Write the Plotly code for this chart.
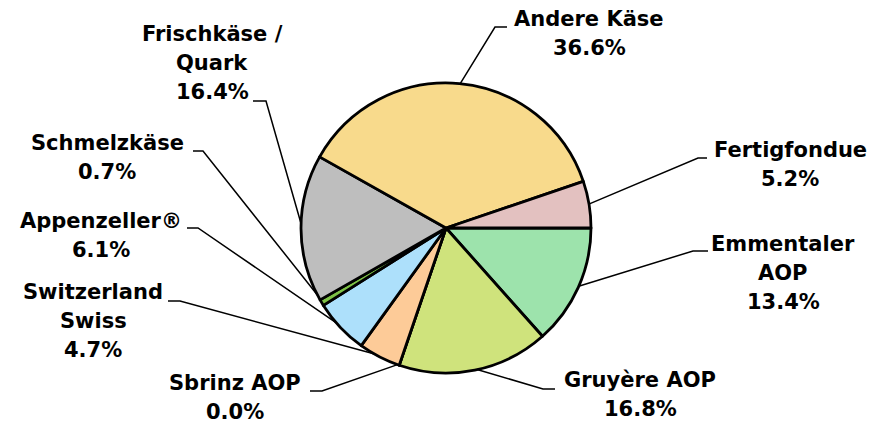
import math
import plotly.graph_objects as go

# ---- data (clockwise from 3 o'clock) ----
categories = ["Emmentaler AOP", "Gruyère AOP", "Sbrinz AOP", "Switzerland Swiss",
              "Appenzeller®", "Schmelzkäse", "Frischkäse / Quark", "Andere Käse", "Fertigfondue"]
shares = [13.4, 16.8, 0.0, 4.7, 6.1, 0.7, 16.4, 36.6, 5.2]
colors = ["#9DE3AC", "#CFE37C", "#FDCB98", "#FDCB98", "#ADE0FB", "#7DC146",
          "#BEBEBE", "#F8DA8C", "#E3C1C0"]
label_lines = [["Emmentaler", "AOP"], ["Gruyère AOP"], ["Sbrinz AOP"], ["Switzerland", "Swiss"],
               ["Appenzeller®"], ["Schmelzkäse"], ["Frischkäse /", "Quark"], ["Andere Käse"],
               ["Fertigfondue"]]

# ---- layout (pixels) ----
W, H = 884, 425
CX, CY, R = 446, 228, 145
# label: x centre, y of first line centre; leader: elbow x, end x, y
label_pos = [(783, 244), (640, 380), (235, 383), (93, 292), (101, 221), (107, 143),
             (212, 34), (589, 19), (790, 150)]
leader = [(693, 708, 251), (543, 555, 389), (322, 310, 391), (180, 168, 301),
          (198, 187, 228), (203, 193, 151), (266, 253, 101), (495, 507, 27),
          (698, 707, 158)]
LINE_GAP = 29
FONT = dict(family="DejaVu Sans", size=21, color="black", weight="bold")


def px(x):
    return x / W


def py(y):
    return 1 - y / H


fig = go.Figure(go.Pie(
    labels=categories, values=shares, sort=False, direction="clockwise", rotation=90,
    marker=dict(colors=colors, line=dict(color="black", width=2.8)),
    textinfo="none", hoverinfo="label+percent", showlegend=False,
    domain=dict(x=[px(CX - R), px(CX + R)], y=[py(CY + R), py(CY - R)]),
))

total = sum(shares)
cum = 0.0
shapes, annotations = [], []
for i, cat in enumerate(categories):
    mid = (cum + shares[i] / 2) / total * 2 * math.pi
    cum += shares[i]
    ex = CX + R * 0.99 * math.cos(mid)
    ey = CY + R * 0.99 * math.sin(mid)
    elx, endx, ly = leader[i]
    shapes.append(dict(type="path", xref="paper", yref="paper", layer="below",
                       path=f"M {px(ex)},{py(ey)} L {px(elx)},{py(ly)} L {px(endx)},{py(ly)}",
                       line=dict(color="black", width=1.5)))
    lines = label_lines[i] + [f"{shares[i]:.1f}%"]
    lx, ly0 = label_pos[i]
    for k, t in enumerate(lines):
        annotations.append(dict(x=px(lx), y=py(ly0 + k * LINE_GAP), xref="paper", yref="paper",
                                text=t, showarrow=False, xanchor="center", yanchor="middle",
                                font=FONT))

fig.update_layout(width=W, height=H, margin=dict(l=0, r=0, t=0, b=0),
                  paper_bgcolor="white", plot_bgcolor="white",
                  shapes=shapes, annotations=annotations)
fig.write_html("out.html", config={"displayModeBar": False},
               post_script="document.body.style.margin='0';document.body.style.padding='0';")
